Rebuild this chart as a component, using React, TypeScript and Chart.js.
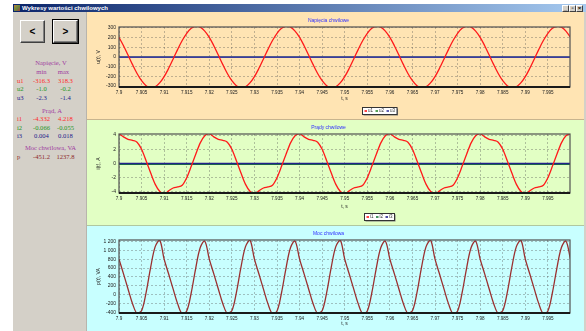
import React, { useEffect, useRef } from 'react';
import { Chart, registerables } from 'chart.js';

Chart.register(...registerables);

// ---------------- DATA ----------------
const time = [
  7.9, 7.901, 7.902, 7.903, 7.904, 7.905, 7.906, 7.907, 7.908, 7.909,
  7.91, 7.911, 7.912, 7.913, 7.914, 7.915, 7.916, 7.917, 7.918, 7.919,
  7.92, 7.921, 7.922, 7.923, 7.924, 7.925, 7.926, 7.927, 7.928, 7.929,
  7.93, 7.931, 7.932, 7.933, 7.934, 7.935, 7.936, 7.937, 7.938, 7.939,
  7.94, 7.941, 7.942, 7.943, 7.944, 7.945, 7.946, 7.947, 7.948, 7.949,
  7.95, 7.951, 7.952, 7.953, 7.954, 7.955, 7.956, 7.957, 7.958, 7.959,
  7.96, 7.961, 7.962, 7.963, 7.964, 7.965, 7.966, 7.967, 7.968, 7.969,
  7.97, 7.971, 7.972, 7.973, 7.974, 7.975, 7.976, 7.977, 7.978, 7.979,
  7.98, 7.981, 7.982, 7.983, 7.984, 7.985, 7.986, 7.987, 7.988, 7.989,
  7.99, 7.991, 7.992, 7.993, 7.994, 7.995, 7.996, 7.997, 7.998, 7.999,
  8.0,
];

const xTicks = [
  7.9, 7.905, 7.91, 7.915, 7.92, 7.925, 7.93, 7.935, 7.94, 7.945,
  7.95, 7.955, 7.96, 7.965, 7.97, 7.975, 7.98, 7.985, 7.99, 7.995,
];

const u1Values = [
  203, 117, 20, -79, -170, -245, -296, -317, -308, -268, -203, -117, -20, 79, 170, 245, 296, 318, 308, 268,
  203, 117, 20, -79, -170, -245, -296, -316, -308, -268, -203, -117, -20, 79, 170, 245, 296, 318, 308, 268,
  203, 117, 20, -79, -170, -245, -296, -317, -308, -268, -203, -117, -20, 79, 170, 245, 296, 318, 308, 268,
  203, 117, 20, -79, -170, -245, -296, -316, -308, -268, -203, -117, -20, 79, 170, 245, 296, 318, 308, 268,
  203, 117, 20, -79, -170, -245, -296, -317, -308, -268, -203, -117, -20, 79, 170, 245, 296, 318, 308, 268,
  203,
];

const flatTimes = [7.9, 7.95, 8.0];
const u2Values = [-0.6, -0.5, -0.6];
const u3Values = [-1.9, -1.8, -1.9];

const i1Values = [
  4.2, 3.75, 3.4, 3.25, 3.0, 2.0, 0.4, -1.3, -2.9, -3.9, -4.3, -3.85, -3.45, -3.3, -3.05, -2.0, -0.4, 1.3, 2.9, 3.9,
  4.2, 3.75, 3.4, 3.25, 3.0, 2.0, 0.4, -1.3, -2.9, -3.9, -4.3, -3.85, -3.45, -3.3, -3.05, -2.0, -0.4, 1.3, 2.9, 3.9,
  4.2, 3.75, 3.4, 3.25, 3.0, 2.0, 0.4, -1.3, -2.9, -3.9, -4.3, -3.85, -3.45, -3.3, -3.05, -2.0, -0.4, 1.3, 2.9, 3.9,
  4.2, 3.75, 3.4, 3.25, 3.0, 2.0, 0.4, -1.3, -2.9, -3.9, -4.3, -3.85, -3.45, -3.3, -3.05, -2.0, -0.4, 1.3, 2.9, 3.9,
  4.2, 3.75, 3.4, 3.25, 3.0, 2.0, 0.4, -1.3, -2.9, -3.9, -4.3, -3.85, -3.45, -3.3, -3.05, -2.0, -0.4, 1.3, 2.9, 3.9,
  4.2,
];
const i2Values = [-0.06, -0.06, -0.06];
const i3Values = [0.01, 0.01, 0.01];

const pValues = [
  800, 470, 130, -200, -420, -360, 50, 610, 1075, 1230, 800, 465, 125, -205, -430, -365, 45, 600, 1060, 1205,
  800, 470, 130, -200, -420, -360, 50, 610, 1075, 1230, 800, 465, 125, -205, -430, -365, 45, 600, 1060, 1205,
  800, 470, 130, -200, -420, -360, 50, 610, 1075, 1230, 800, 465, 125, -205, -430, -365, 45, 600, 1060, 1205,
  800, 470, 130, -200, -420, -360, 50, 610, 1075, 1230, 800, 465, 125, -205, -430, -365, 45, 600, 1060, 1205,
  800, 470, 130, -200, -420, -360, 50, 610, 1075, 1230, 800, 465, 125, -205, -430, -365, 45, 600, 1060, 1205,
  800,
];

const uTicks = [-300, -200, -100, 0, 100, 200, 300];
const iTicks = [-4, -2, 0, 2, 4];
const pTicks = [-400, -200, 0, 200, 400, 600, 800, 1000, 1200];

// left panel statistics
const uNames = ['u1', 'u2', 'u3'];
const uMin = ['-316.3', '-1.0', '-2.3'];
const uMax = ['318.3', '-0.2', '-1.4'];
const iNames = ['i1', 'i2', 'i3'];
const iMin = ['-4.332', '-0.066', '0.004'];
const iMax = ['4.218', '-0.055', '0.018'];
const pNames = ['p'];
const pMin = ['-451.2'];
const pMax = ['1237.8'];

// ---------------- STYLE ----------------
const SANS = '"Liberation Sans", Arial, sans-serif';
const SERIF = '"Liberation Serif", "Times New Roman", serif';
const RED = '#ff1a1a';
const GREEN = '#2e8b2e';
const NAVY = '#3c3c9c';
const ROWCOL = ['#ff2a2a', '#1f961f', '#24248c'];
const HEAD = '#a03ca0';

const toPts = (xs: number[], ys: number[]) => xs.map((x, i) => ({ x, y: ys[i] }));

const framePlugin = {
  id: 'frame',
  afterDatasetsDraw(chart: any) {
    const { ctx, chartArea: a } = chart;
    ctx.save();
    ctx.strokeStyle = '#505050';
    ctx.lineWidth = 1.2;
    ctx.strokeRect(a.left, a.top, a.right - a.left, a.bottom - a.top);
    ctx.strokeStyle = '#1a1a1a';
    ctx.lineWidth = 1.8;
    ctx.beginPath();
    ctx.moveTo(a.left, a.bottom);
    ctx.lineTo(a.right, a.bottom);
    ctx.stroke();
    ctx.restore();
  },
};

const legendPlugin = {
  id: 'boxLegend',
  afterDraw(chart: any, _args: any, opts: any) {
    if (!opts || !opts.show) return;
    const { ctx, chartArea: a } = chart;
    const ds = chart.data.datasets;
    ctx.save();
    ctx.font = `4.5px ${SANS}`;
    const items = ds.map((d: any) => ({ text: d.label, color: d.borderColor, w: ctx.measureText(d.label).width }));
    const mark = 2.5, gap = 1, sep = 2.5, pad = 2, h = 7;
    const total = pad * 2 + items.reduce((s: number, it: any) => s + mark + gap + it.w, 0) + sep * (items.length - 1);
    const cx = a.left + 260.5;
    const x0 = Math.round(cx - total / 2) + 0.5;
    const y0 = Math.round(a.bottom + 20) + 0.5;
    ctx.fillStyle = '#7a7a7a';
    ctx.fillRect(x0 + 1, y0 + 1, total, h);
    ctx.fillStyle = '#ffffff';
    ctx.fillRect(x0, y0, total, h);
    ctx.strokeStyle = '#333333';
    ctx.lineWidth = 1;
    ctx.strokeRect(x0, y0, total, h);
    let x = x0 + pad;
    const cy = y0 + h / 2;
    ctx.textBaseline = 'middle';
    items.forEach((it: any) => {
      ctx.fillStyle = it.color;
      ctx.fillRect(x, cy - 0.8, mark, 1.6);
      x += mark + gap;
      ctx.fillStyle = '#333333';
      ctx.fillText(it.text, x, cy);
      x += it.w + sep;
    });
    ctx.restore();
  },
};

type Spec = {
  top: number; h: number; bg: string;
  areaTop: number; areaBottom: number;
  titleCenter: number; xTitleCenter: number;
  title: string; yTitle: string;
  yMin: number; yMax: number; yTicks: number[];
  yFmt: (v: number) => string;
  legend: boolean;
  datasets: any[];
};

const fmtThousands = (v: number) => {
  const a = Math.abs(v);
  if (a < 1000) return String(v);
  const th = Math.floor(a / 1000);
  const rest = String(a % 1000).padStart(3, '0');
  return (v < 0 ? '-' : '') + th + ' ' + rest;
};

function buildConfig(p: Spec): any {
  const tickFontY = { family: SANS, size: 5 };
  const tickFontX = { family: SANS, size: 4.6 };
  const tPadTop = Math.max(0, p.titleCenter - 3);
  return {
    type: 'line',
    data: { datasets: p.datasets },
    options: {
      animation: false,
      responsive: false,
      events: [],
      layout: { padding: { left: 0, right: 14, top: 0, bottom: 0 } },
      plugins: {
        legend: { display: false },
        tooltip: { enabled: false },
        title: {
          display: true,
          text: p.title,
          color: '#2f2fff',
          font: { family: SANS, size: 5, weight: 'normal' },
          padding: { top: tPadTop, bottom: Math.max(0, p.areaTop - tPadTop - 6) },
        },
        boxLegend: { show: p.legend },
      },
      scales: {
        x: {
          type: 'linear',
          min: 7.9,
          max: 7.9999,
          afterBuildTicks: (s: any) => { s.ticks = xTicks.map((v) => ({ value: v })); },
          afterFit: (s: any) => { s.height = p.h - p.areaBottom; },
          ticks: {
            font: tickFontX,
            color: '#222222',
            padding: 2.5,
            maxRotation: 0,
            minRotation: 0,
            autoSkip: false,
            callback: (v: any) => String(parseFloat(Number(v).toFixed(3))),
          },
          grid: { color: 'rgba(80,80,80,0.45)', lineWidth: 0.8, drawTicks: false },
          border: { display: false, dash: [2, 2] },
          title: {
            display: true,
            text: 't, s',
            color: '#222222',
            font: tickFontY,
            padding: { top: 0, bottom: Math.max(0, p.h - 3 - p.xTitleCenter) },
          },
        },
        y: {
          min: p.yMin,
          max: p.yMax,
          afterBuildTicks: (s: any) => { s.ticks = p.yTicks.map((v) => ({ value: v })); },
          afterFit: (s: any) => { s.width = 32; },
          ticks: {
            font: tickFontY,
            color: '#222222',
            padding: 3,
            callback: (v: any) => p.yFmt(Number(v)),
          },
          grid: { color: 'rgba(80,80,80,0.45)', lineWidth: 0.8, drawTicks: false },
          border: { display: false, dash: [2, 2] },
          title: {
            display: true,
            text: p.yTitle,
            color: '#222222',
            font: tickFontY,
            padding: { top: 9, bottom: 0 },
          },
        },
      },
    },
    plugins: [framePlugin, legendPlugin],
  };
}

const lineDs = (label: string, pts: any[], color: string, width: number, order: number, smooth = 'monotone') => ({
  label,
  data: pts,
  borderColor: color,
  backgroundColor: color,
  borderWidth: width,
  pointRadius: 0,
  fill: false,
  cubicInterpolationMode: smooth === 'monotone' ? 'monotone' : 'default',
  tension: smooth === 'monotone' ? 0 : 0.35,
  order,
});

const specs: Spec[] = [
  {
    top: 12, h: 107, bg: '#ffe4b3',
    areaTop: 15, areaBottom: 75, titleCenter: 8.5, xTitleCenter: 87,
    title: 'Napięcia chwilowe', yTitle: 'u(t), V',
    yMin: -310, yMax: 310, yTicks: uTicks, yFmt: (v) => String(v),
    legend: true,
    datasets: [
      lineDs('u1', toPts(time, u1Values), RED, 1.3, 0, 'tension'),
      lineDs('u2', toPts(flatTimes, u2Values), GREEN, 1.2, 2),
      lineDs('u3', toPts(flatTimes, u3Values), NAVY, 1.8, 1),
    ],
  },
  {
    top: 120, h: 105, bg: '#e2ffc4',
    areaTop: 14, areaBottom: 73, titleCenter: 8, xTitleCenter: 87,
    title: 'Prądy chwilowe', yTitle: 'i(t), A',
    yMin: -4.15, yMax: 4.15, yTicks: iTicks, yFmt: (v) => String(v),
    legend: true,
    datasets: [
      lineDs('i1', toPts(time, i1Values), RED, 1.3, 0),
      lineDs('i2', toPts(flatTimes, i2Values), '#1a7a3a', 2, 2),
      lineDs('i3', toPts(flatTimes, i3Values), '#22228a', 1.5, 1),
    ],
  },
  {
    top: 226, h: 105, bg: '#c8ffff',
    areaTop: 14, areaBottom: 87, titleCenter: 8, xTitleCenter: 98,
    title: 'Moc chwilowa', yTitle: 'p(t), VA',
    yMin: -410, yMax: 1230, yTicks: pTicks, yFmt: fmtThousands,
    legend: false,
    datasets: [lineDs('p', toPts(time, pValues), '#9a3030', 1.3, 0, 'tension')],
  },
];

function ChartPanel({ spec }: { spec: Spec }) {
  const ref = useRef<HTMLCanvasElement | null>(null);
  useEffect(() => {
    if (!ref.current) return;
    const chart = new Chart(ref.current, buildConfig(spec));
    return () => chart.destroy();
  }, []);
  return (
    <canvas
      ref={ref}
      width={497}
      height={spec.h}
      style={{ position: 'absolute', left: 87, top: spec.top, width: 497, height: spec.h, background: spec.bg }}
    />
  );
}

const abs = (o: any): React.CSSProperties => ({ position: 'absolute', ...o });

function Txt({ x, y, w, text, color, align = 'center', size = 6.6, bold = false }: any) {
  const left = align === 'center' ? x - w / 2 : x;
  return (
    <div
      style={abs({
        left, top: y - 4.5, width: w, height: 9, lineHeight: '9px',
        fontFamily: SERIF, fontSize: size, color, textAlign: align,
        whiteSpace: 'nowrap', fontWeight: bold ? 'bold' : 'normal',
      })}
    >
      {text}
    </div>
  );
}

function StatBlock({ names, mins, maxs, y0, step, colors }: any) {
  return (
    <>
      {names.map((n: string, k: number) => (
        <React.Fragment key={n}>
          <Txt x={17} y={y0 + k * step} w={12} text={n} color={colors[k]} align="left" />
          <Txt x={41.5} y={y0 + k * step} w={24} text={mins[k]} color={colors[k]} />
          <Txt x={65.5} y={y0 + k * step} w={24} text={maxs[k]} color={colors[k]} />
        </React.Fragment>
      ))}
    </>
  );
}

function Btn({ x, label, def }: any) {
  return (
    <div
      style={abs({
        left: x, top: 20, width: 25, height: 23, boxSizing: 'border-box',
        background: '#d4d0c8',
        borderTop: '1px solid #ffffff', borderLeft: '1px solid #ffffff',
        borderRight: '1px solid #404040', borderBottom: '1px solid #404040',
        outline: def ? '1px solid #000' : 'none',
        boxShadow: 'inset -1px -1px 0 #808080',
        fontFamily: SANS, fontWeight: 'bold', fontSize: 10, color: '#000',
        textAlign: 'center', lineHeight: '21px',
      })}
    >
      {label}
    </div>
  );
}

function WinBtn({ x, glyph }: any) {
  return (
    <div
      style={abs({
        left: x, top: 4.5, width: 7, height: 7, boxSizing: 'border-box',
        background: '#d4d0c8', borderTop: '1px solid #fff', borderLeft: '1px solid #fff',
        borderRight: '1px solid #404040', borderBottom: '1px solid #404040',
        fontFamily: SANS, fontSize: 6, fontWeight: 'bold', lineHeight: '5px', textAlign: 'center', color: '#000',
      })}
    >
      {glyph}
    </div>
  );
}

export default function App() {
  return (
    <div style={abs({ left: 0, top: 0, width: 586, height: 331, overflow: 'hidden', background: '#ffffff' })}>
      {/* title bar */}
      <div style={abs({ left: 13, top: 4, width: 573, height: 8, background: 'linear-gradient(to right, #0a246a, #a6caf0)' })} />
      <div style={abs({ left: 14, top: 5, width: 6, height: 6, background: 'linear-gradient(135deg, #c08040, #6a8a3a 50%, #a04040)' })} />
      <div style={abs({ left: 22, top: 4, height: 8, lineHeight: '8px', fontFamily: SANS, fontWeight: 'bold', fontSize: 6, color: '#ffffff', whiteSpace: 'nowrap' })}>
        Wykresy wartości chwilowych
      </div>
      <WinBtn x={562} glyph="_" />
      <WinBtn x={569} glyph="▫" />
      <WinBtn x={576} glyph="×" />

      {/* left panel */}
      <div style={abs({ left: 13, top: 12, width: 74, height: 319, background: '#d4d0c8', boxSizing: 'border-box', borderRight: '1px solid #b8b4ac' })} />
      <Btn x={20} label="<" />
      <Btn x={53} label=">" def />

      <Txt x={51} y={62} w={70} text="Napięcie, V" color={HEAD} />
      <Txt x={41.5} y={71} w={20} text="min" color={HEAD} />
      <Txt x={63.5} y={71} w={20} text="max" color={HEAD} />
      <StatBlock names={uNames} mins={uMin} maxs={uMax} y0={80} step={8.5} colors={ROWCOL} />

      <Txt x={52} y={110} w={70} text="Prąd, A" color={HEAD} />
      <StatBlock names={iNames} mins={iMin} maxs={iMax} y0={118.5} step={8.5} colors={ROWCOL} />

      <Txt x={50.5} y={147} w={72} text="Moc chwilowa, VA" color={HEAD} />
      <StatBlock names={pNames} mins={pMin} maxs={pMax} y0={156} step={8.5} colors={['#8e2a2a']} />

      {/* chart panels */}
      {specs.map((s, k) => (
        <ChartPanel key={k} spec={s} />
      ))}
      <div style={abs({ left: 87, top: 119, width: 497, height: 1, background: '#c8b48e' })} />
      <div style={abs({ left: 87, top: 225, width: 497, height: 1, background: '#b0c8a0' })} />
      <div style={abs({ left: 584, top: 12, width: 2, height: 319, background: '#d4d0c8' })} />
    </div>
  );
}
